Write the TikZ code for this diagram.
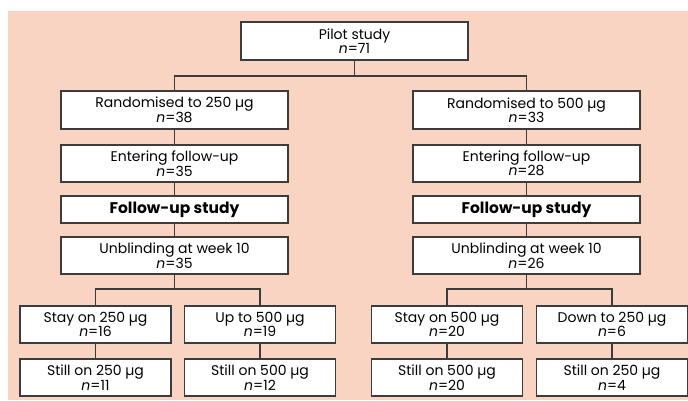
\documentclass[tikz,border=0pt]{standalone}
\usepackage{fontspec}
\setmainfont{Poppins}
\usepackage{xcolor}
\definecolor{bgpink}{RGB}{250,212,194}
\definecolor{linegray}{RGB}{60,60,60}
\usepackage{tikz}
\usetikzlibrary{positioning}

\begin{document}
\begin{tikzpicture}[x=1pt,y=-1pt,
  every node/.style={font=\fontsize{14}{14.5}\selectfont},
  box/.style={draw=linegray,line width=1.1pt,fill=white,align=center,
    inner sep=0pt,minimum width=227pt,minimum height=37pt},
  small/.style={box,minimum width=151pt},
  bold/.style={box,minimum height=27pt,font=\fontsize{15.5}{16}\selectfont\bfseries},
  link/.style={draw=linegray,line width=1.1pt}]
  \useasboundingbox (0,0) rectangle (688,400);
  \fill[bgpink] (8,11) rectangle (688,400);

  % pilot and randomisation
  \node[box,minimum height=38pt] (pilot) at (354.5,41) {Pilot study\\\textit{n}=71};
  \node[box,minimum height=38pt] (rlow) at (174.5,110) {Randomised to 250 µg\\\textit{n}=38};
  \node[box,minimum height=38pt] (rhigh) at (526.5,110) {Randomised to 500 µg\\\textit{n}=33};
  \node[box] (elow) at (174.5,163.5) {Entering follow-up\\\textit{n}=35};
  \node[box] (ehigh) at (526.5,163.5) {Entering follow-up\\\textit{n}=28};
  \node[bold] (flow) at (174.5,209.5) {Follow-up study};
  \node[bold] (fhigh) at (526.5,209.5) {Follow-up study};
  \node[box] (ulow) at (174.5,255.5) {Unblinding at week 10\\\textit{n}=35};
  \node[box] (uhigh) at (526.5,255.5) {Unblinding at week 10\\\textit{n}=26};

  % after unblinding
  \node[small] (stlow) at (95.5,324.5) {Stay on 250 µg\\\textit{n}=16};
  \node[small] (uplow) at (260,324.5) {Up to 500 µg\\\textit{n}=19};
  \node[small] (sthigh) at (447,324.5) {Stay on 500 µg\\\textit{n}=20};
  \node[small] (dnhigh) at (612,324.5) {Down to 250 µg\\\textit{n}=6};
  \node[small] (slow) at (95.5,377.5) {Still on 250 µg\\\textit{n}=11};
  \node[small] (supl) at (260,377.5) {Still on 500 µg\\\textit{n}=12};
  \node[small] (shigh) at (447,377.5) {Still on 500 µg\\\textit{n}=20};
  \node[small] (sdnh) at (612,377.5) {Still on 250 µg\\\textit{n}=4};

  \coordinate (split) at (354.5,76);
  \coordinate (splitl) at (174.5,289);
  \coordinate (splitr) at (526.5,289);

  \draw[link] (pilot.south) -- (split);
  \draw[link] (split) -| (rlow.north);
  \draw[link] (split) -| (rhigh.north);
  \draw[link] (rlow) -- (elow);
  \draw[link] (elow) -- (flow);
  \draw[link] (flow) -- (ulow);
  \draw[link] (rhigh) -- (ehigh);
  \draw[link] (ehigh) -- (fhigh);
  \draw[link] (fhigh) -- (uhigh);
  \draw[link] (ulow.south) -- (splitl);
  \draw[link] (splitl) -| (stlow.north);
  \draw[link] (splitl) -| (uplow.north);
  \draw[link] (uhigh.south) -- (splitr);
  \draw[link] (splitr) -| (sthigh.north);
  \draw[link] (splitr) -| (dnhigh.north);
  \draw[link] (stlow) -- (slow);
  \draw[link] (uplow) -- (supl);
  \draw[link] (sthigh) -- (shigh);
  \draw[link] (dnhigh) -- (sdnh);
\end{tikzpicture}
\end{document}
